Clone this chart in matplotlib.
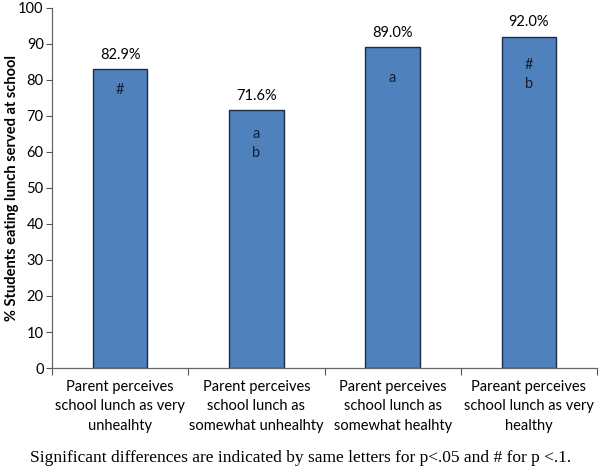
import matplotlib.pyplot as plt

# data
categories = ['Parent perceives\nschool lunch as very\nunhealhty',
              'Parent perceives\nschool lunch as\nsomewhat unhealhty',
              'Parent perceives\nschool lunch as\nsomewhat healhty',
              'Pareant perceives\nschool lunch as very\nhealthy']
values = [82.9, 71.6, 89.0, 92.0]
value_labels = ['82.9%', '71.6%', '89.0%', '92.0%']
# significance markers inside the bars
sig_marks = ['#', 'a\nb', 'a', '#\nb']
sig_y = [77.2, 62.4, 80.6, 81.4]

plt.rcParams['font.family'] = ['Lato', 'DejaVu Sans']

fig = plt.figure(figsize=(6.01, 4.72), dpi=100)
ax = fig.add_axes([0.0865, 0.2203, 0.907, 0.763])

x = range(len(categories))
ax.bar(x, values, width=0.4, color='#4f81bd', edgecolor='#1c2b45', linewidth=1.0, zorder=2)

for i, (v, lab) in enumerate(zip(values, value_labels)):
    ax.text(i, v + 2.0, lab, ha='center', va='bottom', fontsize=10.5, color='black')
    ax.text(i, sig_y[i], sig_marks[i], ha='center', va='center', fontsize=10.5,
            color='#141f33', linespacing=1.45)

ax.set_xlim(-0.5, 3.5)
ax.set_ylim(0, 100)
ax.set_yticks(range(0, 101, 10))
ax.tick_params(axis='y', labelsize=10.5, length=4, direction='out', width=0.8,
               colors='#555555', labelcolor='black', pad=2)
ax.set_xticks([-0.5, 0.5, 1.5, 2.5, 3.5])
ax.set_xticklabels([])
ax.tick_params(axis='x', length=5, direction='out', width=0.8, colors='#555555')
for i, c in enumerate(categories):
    ax.text(i, -3.3, c, ha='center', va='top', fontsize=10.5, linespacing=1.5)

for s in ['top', 'right']:
    ax.spines[s].set_visible(False)
for s in ['left', 'bottom']:
    ax.spines[s].set_color('#666666')
    ax.spines[s].set_linewidth(0.9)

ax.set_ylabel('% Students eating lunch served at school', fontsize=10.5, fontweight='bold')
ax.yaxis.set_label_coords(-0.06, 0.5)

fig.text(0.5, 0.03, 'Significant differences are indicated by same letters for p<.05 and # for p <.1.',
         ha='center', va='center', fontsize=12.5, family='Liberation Serif')

fig.savefig('out.png', dpi=100)
